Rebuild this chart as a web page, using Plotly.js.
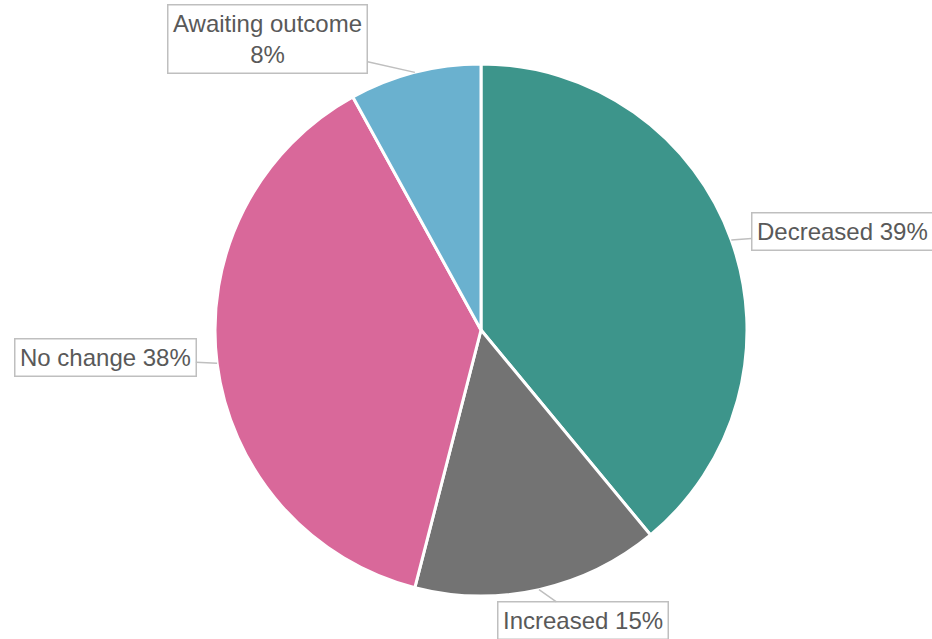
<!DOCTYPE html>
<html>
<head>
<meta charset="utf-8">
<script src="https://cdn.plot.ly/plotly-3.0.1.min.js"></script>
<style>html,body{margin:0;padding:0;background:#fff;}#chart{width:932px;height:639px;}</style>
</head>
<body>
<div id="chart"></div>
<script>
const categories = ["Decreased", "Increased", "No change", "Awaiting outcome"];
const values = [39, 15, 38, 8];
const labelText = ["Decreased 39%", "Increased 15%", "No change 38%", "Awaiting outcome<br>8%"];
const colors = ["#3d958b", "#737373", "#d9689a", "#6ab1cf"];
// label box offsets (pixels) from the slice edge
const offsetsX = [111, 44, -112, -147];
const offsetsY = [-8, 31, -6, -33];

const W = 932, H = 639;
const margin = {l: 30, r: 0, t: 64, b: 43};
const plotW = W - margin.l - margin.r, plotH = H - margin.t - margin.b;
const R = Math.min(plotW, plotH) / 2;
const cx = margin.l + plotW / 2, cy = margin.t + plotH / 2;

const total = values.reduce((a, b) => a + b, 0);
let cum = 0;
const annotations = values.map((v, i) => {
  const mid = (cum + v / 2) / total * 2 * Math.PI;
  cum += v;
  const px = cx + R * Math.sin(mid);
  const py = cy - R * Math.cos(mid);
  return {
    xref: "paper", yref: "paper",
    x: (px - margin.l) / plotW,
    y: (H - margin.b - py) / plotH,
    ax: offsetsX[i], ay: offsetsY[i],
    axref: "pixel", ayref: "pixel",
    text: labelText[i],
    showarrow: true, arrowhead: 0, arrowwidth: 1.5, arrowcolor: "#bfbfbf",
    bordercolor: "#bfbfbf", borderwidth: 1.5, borderpad: 4.5, bgcolor: "#ffffff",
    font: {family: "Arial", size: 24, color: "#595959"},
    align: "center"
  };
});

const trace = {
  type: "pie",
  labels: categories,
  values: values,
  sort: false,
  direction: "clockwise",
  rotation: 0,
  marker: {colors: colors, line: {color: "#ffffff", width: 3}},
  textinfo: "none",
  hoverinfo: "none",
  showlegend: false
};

const layout = {
  width: W, height: H,
  margin: margin,
  paper_bgcolor: "#ffffff",
  plot_bgcolor: "#ffffff",
  showlegend: false,
  annotations: annotations
};

Plotly.newPlot("chart", [trace], layout, {displayModeBar: false, staticPlot: true});
</script>
</body>
</html>
